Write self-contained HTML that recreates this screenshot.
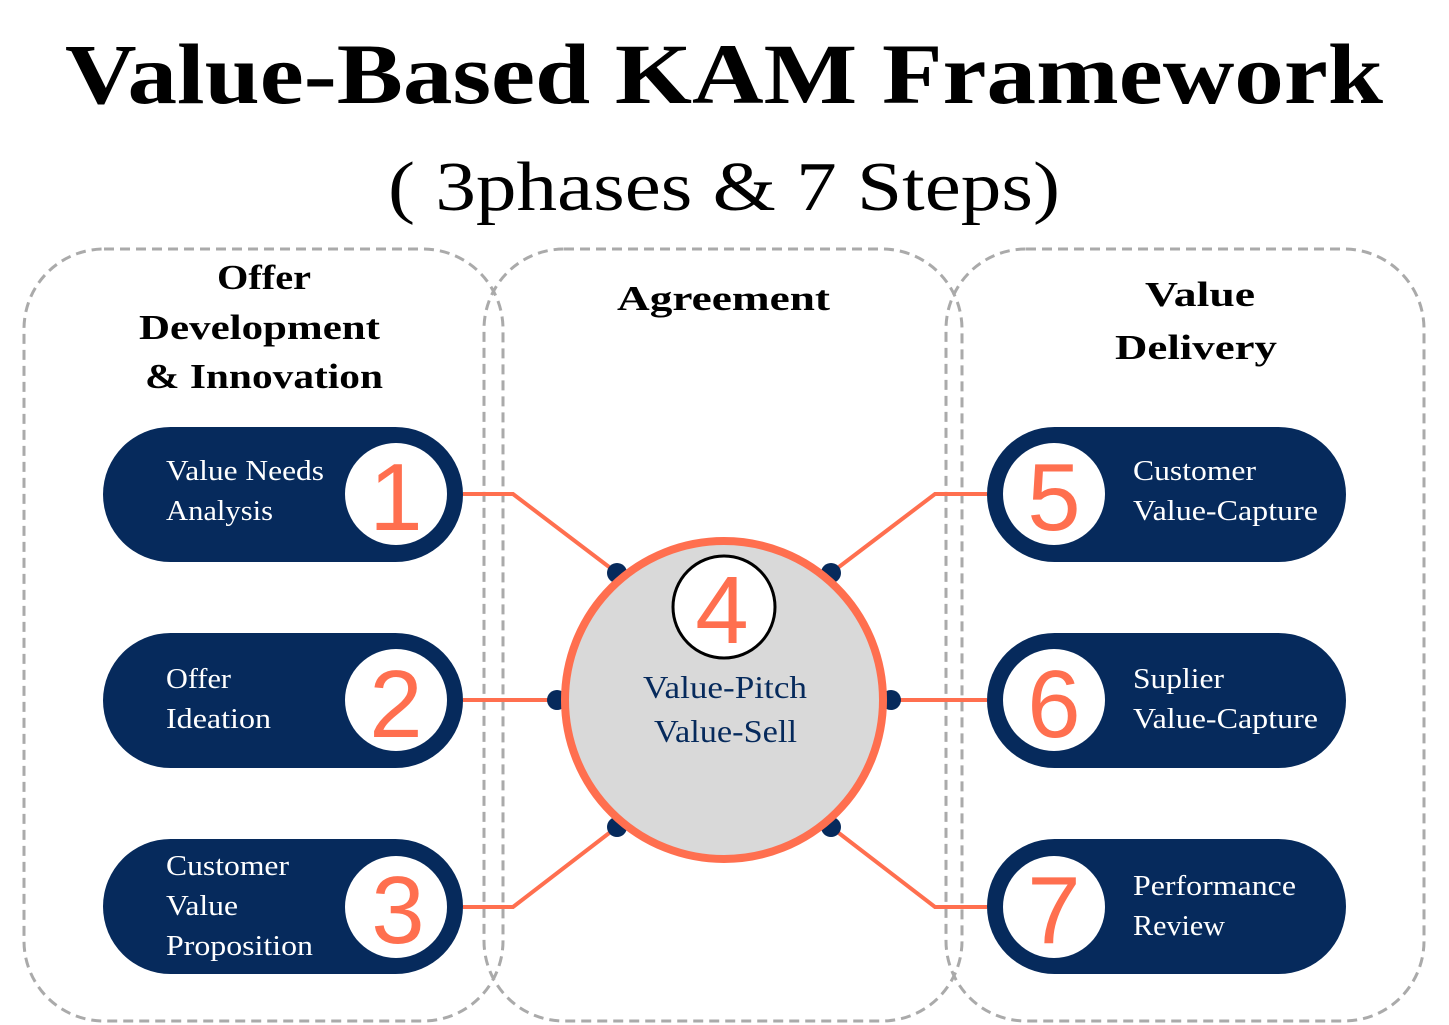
<!DOCTYPE html>
<html><head><meta charset="utf-8"><style>
html,body{margin:0;padding:0;background:#fff;}
svg{display:block;}
.t{font-family:"Liberation Serif",serif;}
.pt{font-family:"Liberation Serif",serif;font-size:29px;fill:#fff;}
.num{font-family:"Liberation Sans",sans-serif;font-size:96px;fill:#ff6f4f;text-anchor:middle;}
</style></head><body>
<svg width="1449" height="1025" viewBox="0 0 1449 1025" xmlns="http://www.w3.org/2000/svg">
<text class="t" x="65" y="103" font-size="86" font-weight="bold" textLength="1318" lengthAdjust="spacingAndGlyphs">Value-Based KAM Framework</text>
<text class="t" x="388" y="210" font-size="70" textLength="672" lengthAdjust="spacingAndGlyphs">( 3phases &amp; 7 Steps)</text>
<g fill="none" stroke="#aaa" stroke-width="3" stroke-dasharray="10 6">
<rect x="24" y="249" width="479" height="772" rx="80"/>
<rect x="484" y="249" width="478" height="772" rx="80"/>
<rect x="946" y="249" width="478" height="772" rx="80"/>
</g>
<g class="t" font-weight="bold" font-size="35">
<text x="217" y="289" textLength="94" lengthAdjust="spacingAndGlyphs">Offer</text>
<text x="139" y="339" textLength="241" lengthAdjust="spacingAndGlyphs">Development</text>
<text x="145" y="388" textLength="238" lengthAdjust="spacingAndGlyphs">&amp; Innovation</text>
<text x="617" y="310" textLength="213" lengthAdjust="spacingAndGlyphs">Agreement</text>
<text x="1145" y="306" textLength="110" lengthAdjust="spacingAndGlyphs">Value</text>
<text x="1115" y="359" textLength="162" lengthAdjust="spacingAndGlyphs">Delivery</text>
</g>
<g stroke="#ff6f4f" stroke-width="4" fill="none">
<polyline points="463,494 513,494 617,573"/>
<polyline points="463,700 557,700"/>
<polyline points="463,907 513,907 617,827"/>
<polyline points="987,494 935,494 831,573"/>
<polyline points="987,700 891,700"/>
<polyline points="987,907 935,907 831,827"/>
</g>
<g fill="#062a5c">
<circle cx="617" cy="573" r="10"/><circle cx="557" cy="700" r="10"/><circle cx="617" cy="827" r="10"/>
<circle cx="831" cy="573" r="10"/><circle cx="891" cy="700" r="10"/><circle cx="831" cy="827" r="10"/>
<rect x="103" y="427" width="360" height="135" rx="67.5"/>
<rect x="103" y="633" width="360" height="135" rx="67.5"/>
<rect x="103" y="839" width="360" height="135" rx="67.5"/>
<rect x="987" y="427" width="359" height="135" rx="67.5"/>
<rect x="987" y="633" width="359" height="135" rx="67.5"/>
<rect x="987" y="839" width="359" height="135" rx="67.5"/>
</g>
<g fill="#fff">
<circle cx="396" cy="494" r="51"/><circle cx="396" cy="700" r="51"/><circle cx="396" cy="907" r="51"/>
<circle cx="1054" cy="494" r="51"/><circle cx="1054" cy="700" r="51"/><circle cx="1054" cy="907" r="51"/>
</g>
<text class="num" x="396" y="530">1</text>
<text class="num" x="396" y="737">2</text>
<text class="num" x="398" y="943">3</text>
<text class="num" x="1054" y="530">5</text>
<text class="num" x="1054" y="737">6</text>
<text class="num" x="1054" y="943">7</text>
<text class="pt" x="166" y="480" textLength="158" lengthAdjust="spacingAndGlyphs">Value Needs</text>
<text class="pt" x="166" y="520" textLength="107" lengthAdjust="spacingAndGlyphs">Analysis</text>
<text class="pt" x="166" y="688" textLength="65" lengthAdjust="spacingAndGlyphs">Offer</text>
<text class="pt" x="166" y="728" textLength="105" lengthAdjust="spacingAndGlyphs">Ideation</text>
<text class="pt" x="166" y="875" textLength="123" lengthAdjust="spacingAndGlyphs">Customer</text>
<text class="pt" x="166" y="915" textLength="72" lengthAdjust="spacingAndGlyphs">Value</text>
<text class="pt" x="166" y="955" textLength="147" lengthAdjust="spacingAndGlyphs">Proposition</text>
<text class="pt" x="1133" y="480" textLength="123" lengthAdjust="spacingAndGlyphs">Customer</text>
<text class="pt" x="1133" y="520" textLength="185" lengthAdjust="spacingAndGlyphs">Value-Capture</text>
<text class="pt" x="1133" y="688" textLength="91" lengthAdjust="spacingAndGlyphs">Suplier</text>
<text class="pt" x="1133" y="728" textLength="185" lengthAdjust="spacingAndGlyphs">Value-Capture</text>
<text class="pt" x="1133" y="895" textLength="163" lengthAdjust="spacingAndGlyphs">Performance</text>
<text class="pt" x="1133" y="935" textLength="92" lengthAdjust="spacingAndGlyphs">Review</text>
<circle cx="724" cy="700" r="159" fill="#d9d9d9" stroke="#ff6f4f" stroke-width="8"/>
<circle cx="724" cy="607" r="51" fill="#fff" stroke="#000" stroke-width="3"/>
<text class="num" x="722" y="643">4</text>
<text class="t" x="643" y="698" font-size="32" fill="#062a5c" textLength="164" lengthAdjust="spacingAndGlyphs">Value-Pitch</text>
<text class="t" x="654" y="742" font-size="32" fill="#062a5c" textLength="143" lengthAdjust="spacingAndGlyphs">Value-Sell</text>
</svg>
</body></html>
